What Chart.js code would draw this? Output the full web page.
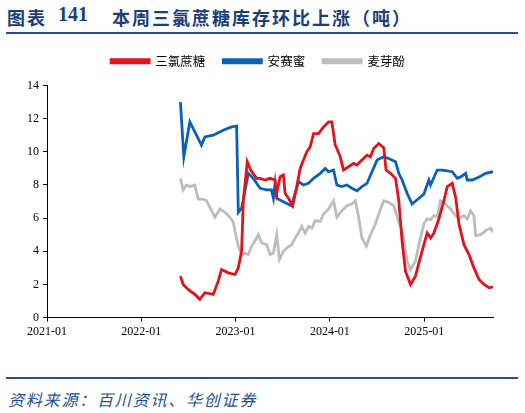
<!DOCTYPE html>
<html>
<head>
<meta charset="utf-8">
<script src="https://cdn.jsdelivr.net/npm/chart.js@4/dist/chart.umd.min.js"></script>
<style>
  body { margin: 0; background: #fff; width: 525px; height: 413px; position: relative; overflow: hidden; }
  .t { position: absolute; top: 4px; font: bold 18px "Noto Sans CJK SC", sans-serif; color: #1d3f78; letter-spacing: 2px; white-space: nowrap; }
  .num { top: 3px; font: bold 20px "Liberation Serif", serif; letter-spacing: 0; }
  .rule { position: absolute; left: 6px; width: 512px; height: 2px; background: #2a4f8a; }
  #src { position: absolute; left: 8px; top: 387px; font: italic 16px "Noto Sans CJK SC", sans-serif; color: #1d4f91; letter-spacing: 1.8px; }
  #wrap { position: absolute; left: 0; top: 37px; width: 525px; height: 320px; }
</style>
</head>
<body>
<div class="t" style="left:7px">图表</div>
<div class="t num" style="left:58px">141</div>
<div class="t" style="left:112px">本周三氯蔗糖库存环比上涨（吨）</div>
<div class="rule" style="top:32px"></div>
<div id="wrap"><canvas id="chart1"></canvas></div>
<div class="rule" style="top:377px"></div>
<div id="src">资料来源：百川资讯、华创证券</div>
<script>
// x values are decimal years (2022.5 = mid 2022)
var sucraloseX = [2022.415, 2022.444, 2022.497, 2022.568, 2022.621, 2022.674, 2022.763, 2022.816, 2022.851, 2022.922,
  2022.994, 2023.029, 2023.064, 2023.082, 2023.124, 2023.160, 2023.223, 2023.260, 2023.313, 2023.366,
  2023.419, 2023.436, 2023.472, 2023.507, 2023.525, 2023.561, 2023.606, 2023.649, 2023.685, 2023.720,
  2023.755, 2023.791, 2023.827, 2023.880, 2023.933, 2023.986, 2024.021, 2024.057, 2024.074, 2024.110,
  2024.145, 2024.198, 2024.252, 2024.287, 2024.340, 2024.394, 2024.430, 2024.465, 2024.518, 2024.571,
  2024.596, 2024.643, 2024.696, 2024.731, 2024.766, 2024.802, 2024.855, 2024.908, 2024.944, 2024.997,
  2025.032, 2025.068, 2025.103, 2025.156, 2025.209, 2025.245, 2025.298, 2025.334, 2025.369, 2025.422,
  2025.475, 2025.528, 2025.582, 2025.635, 2025.688, 2025.73];
var sucralose = [2.5, 2.0, 1.7, 1.4, 1.1, 1.5, 1.4, 2.2, 2.9, 2.7,
  2.6, 3.0, 4.0, 7.05, 9.4, 8.9, 8.4, 8.4, 8.3, 8.4,
  8.3, 7.5, 8.5, 8.6, 7.5, 7.2, 6.75, 7.9, 9.0, 9.5,
  10.0, 10.3, 11.1, 11.1, 11.5, 11.8, 11.8, 10.4, 10.2, 9.7,
  8.9, 9.1, 9.3, 9.2, 9.5, 9.8, 9.7, 10.2, 10.5, 10.25,
  8.9, 8.7, 8.4, 7.05, 4.6, 2.8, 2.0, 2.5, 3.3, 4.4,
  5.1, 4.8, 5.1, 5.95, 7.05, 7.9, 8.1, 7.25, 5.65, 4.4,
  3.8, 3.0, 2.3, 2.0, 1.8, 1.85];

var acesulfameX = [2022.415, 2022.451, 2022.515, 2022.638, 2022.674, 2022.763, 2022.869, 2022.957, 2023.011, 2023.029,
  2023.064, 2023.135, 2023.188, 2023.260, 2023.327, 2023.380, 2023.401, 2023.419, 2023.436, 2023.486,
  2023.539, 2023.593, 2023.667, 2023.720, 2023.773, 2023.827, 2023.898, 2023.951, 2023.986, 2024.039,
  2024.074, 2024.124, 2024.181, 2024.234, 2024.287, 2024.340, 2024.394, 2024.447, 2024.500, 2024.571,
  2024.624, 2024.696, 2024.731, 2024.766, 2024.819, 2024.872, 2024.944, 2024.997, 2025.050, 2025.068,
  2025.138, 2025.191, 2025.245, 2025.298, 2025.351, 2025.390, 2025.440, 2025.457, 2025.511, 2025.588,
  2025.653, 2025.73];
var acesulfame = [13.0, 9.7, 11.8, 10.4, 10.9, 11.0, 11.3, 11.5, 11.55, 6.35,
  6.6, 8.7, 8.4, 7.8, 7.7, 7.7, 7.2, 8.1, 7.2, 7.05,
  6.9, 6.75, 8.2, 8.0, 8.1, 8.4, 8.7, 9.0, 8.8, 8.9,
  8.0, 7.9, 8.0, 7.8, 7.65, 7.9, 8.1, 8.8, 9.5, 9.7,
  9.6, 9.4, 8.7, 8.3, 7.5, 6.85, 7.2, 7.45, 8.3, 8.0,
  8.9, 8.9, 8.85, 8.8, 8.4, 8.5, 8.7, 8.3, 8.3, 8.5,
  8.7, 8.8];

var maltolX = [2022.415, 2022.444, 2022.479, 2022.518, 2022.568, 2022.603, 2022.646, 2022.691, 2022.728, 2022.781,
  2022.834, 2022.887, 2022.940, 2022.976, 2022.994, 2023.029, 2023.064, 2023.100, 2023.135, 2023.170,
  2023.223, 2023.241, 2023.277, 2023.330, 2023.366, 2023.401, 2023.436, 2023.465, 2023.507, 2023.543,
  2023.596, 2023.632, 2023.667, 2023.702, 2023.738, 2023.773, 2023.809, 2023.845, 2023.898, 2023.933,
  2023.986, 2024.039, 2024.074, 2024.128, 2024.181, 2024.234, 2024.270, 2024.305, 2024.340, 2024.387,
  2024.430, 2024.483, 2024.518, 2024.571, 2024.624, 2024.677, 2024.731, 2024.766, 2024.819, 2024.855,
  2024.908, 2024.944, 2024.997, 2025.032, 2025.068, 2025.103, 2025.138, 2025.174, 2025.227, 2025.280,
  2025.334, 2025.369, 2025.422, 2025.457, 2025.493, 2025.528, 2025.546, 2025.599, 2025.653, 2025.706,
  2025.73];
var maltol = [8.4, 7.7, 8.0, 7.9, 8.0, 7.15, 7.15, 7.05, 6.65, 6.05,
  6.55, 6.35, 6.05, 5.75, 5.2, 4.3, 3.8, 3.9, 3.8, 4.3,
  4.8, 5.0, 4.5, 4.4, 3.8, 3.9, 5.0, 3.5, 4.0, 4.2,
  4.4, 4.8, 5.1, 5.5, 5.1, 5.5, 5.4, 5.85, 5.8, 6.25,
  6.55, 7.05, 6.05, 6.45, 6.75, 6.85, 7.05, 6.05, 4.8, 4.3,
  5.0, 5.65, 6.25, 7.05, 6.95, 6.75, 5.75, 5.25, 3.4, 2.9,
  3.4, 4.4, 5.65, 5.95, 5.9, 6.15, 6.1, 7.05, 6.85, 6.55,
  6.15, 5.95, 6.15, 5.95, 6.45, 6.15, 4.95, 5.0, 5.25, 5.4,
  5.15];

var seriesNames = ["三氯蔗糖", "安赛蜜", "麦芽酚"];
var lineColors = ["#e5121c", "#0a62b8", "#bdbdbd"];
var yTicks = [0, 2, 4, 6, 8, 10, 12, 14];
var xTicks = [2021, 2022, 2023, 2024, 2025];

function pts(xs, ys) {
  return xs.map(function (x, i) { return { x: x, y: ys[i] }; });
}

var serif = "'Liberation Serif', 'Times New Roman', serif";

// a bit more room between the legend and the plot
var legendGap = {
  id: "legendGap",
  beforeInit: function (chart) {
    var fit = chart.legend.fit;
    chart.legend.fit = function () {
      fit.bind(chart.legend)();
      this.height += 8;
    };
  }
};

new Chart("chart1", {
  type: "line",
  data: {
    datasets: [
      { label: seriesNames[0], data: pts(sucraloseX, sucralose), borderColor: lineColors[0], backgroundColor: lineColors[0] },
      { label: seriesNames[1], data: pts(acesulfameX, acesulfame), borderColor: lineColors[1], backgroundColor: lineColors[1] },
      { label: seriesNames[2], data: pts(maltolX, maltol), borderColor: lineColors[2], backgroundColor: lineColors[2] }
    ]
  },
  plugins: [legendGap],
  options: {
    responsive: true,
    maintainAspectRatio: false,
    animation: false,
    elements: {
      point: { radius: 0 },
      line: { borderWidth: 2.8, tension: 0 }
    },
    layout: { padding: { left: 23, right: 32, top: 0, bottom: 15 } },
    plugins: {
      legend: {
        labels: {
          boxWidth: 38,
          boxHeight: 3,
          padding: 18,
          color: "#000",
          font: { family: "'Noto Sans CJK SC', sans-serif", size: 12.5 }
        }
      },
      tooltip: { enabled: false }
    },
    scales: {
      x: {
        type: "linear",
        min: 2021,
        max: 2025.73,
        afterBuildTicks: function (scale) {
          scale.ticks = xTicks.map(function (v) { return { value: v }; });
        },
        ticks: {
          autoSkip: false,
          color: "#000",
          maxRotation: 0,
          font: { family: serif, size: 12 },
          callback: function (v) { return v + "-01"; }
        },
        grid: { drawOnChartArea: false, tickLength: 4, color: "#000" },
        border: { color: "#000", width: 1 }
      },
      y: {
        min: 0,
        max: 14,
        afterBuildTicks: function (scale) {
          scale.ticks = yTicks.map(function (v) { return { value: v }; });
        },
        ticks: {
          color: "#000",
          padding: 4,
          font: { family: serif, size: 12 }
        },
        grid: { drawOnChartArea: false, tickLength: 4, color: "#000" },
        border: { color: "#000", width: 1 }
      }
    }
  }
});
</script>
</body>
</html>
